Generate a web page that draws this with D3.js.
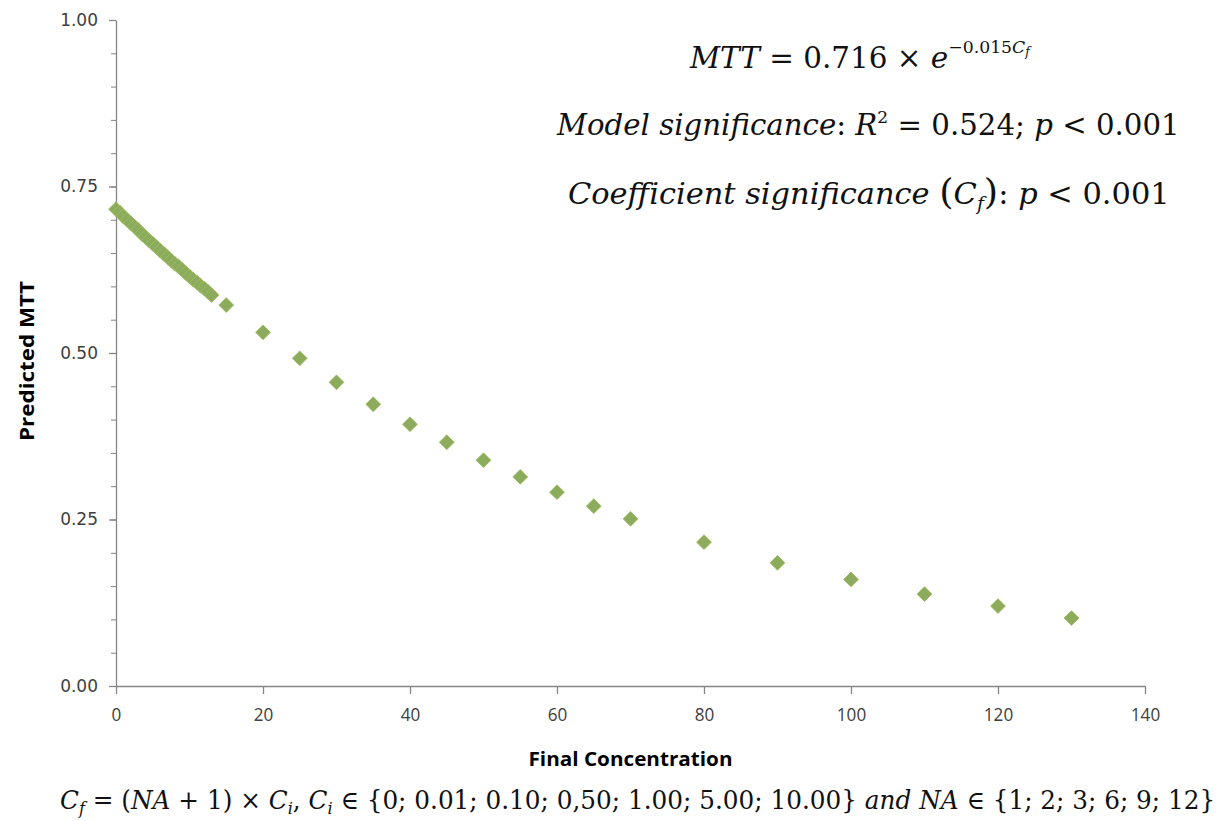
<!DOCTYPE html>
<html>
<head>
<meta charset="utf-8">
<script src="https://cdn.jsdelivr.net/npm/d3@7"></script>
<style>
  html, body { margin: 0; padding: 0; background: #fff; }
  svg { display: block; }
</style>
</head>
<body>
<svg id="chart" width="1227" height="821"></svg>
<script>
// Final concentration (Cf) of each simulated case
const concentration = [
  0, 0.5, 1, 1.5, 2, 2.5, 3, 3.5, 4, 4.5, 5, 5.5, 6, 6.5, 7, 7.5, 8, 8.5, 9, 9.5,
  10, 10.5, 11, 11.5, 12, 12.5, 13,
  15, 20, 25, 30, 35, 40, 45, 50, 55, 60, 65, 70, 80, 90, 100, 110, 120, 130
];
// Predicted MTT for each case
const predictedMTT = [
  0.716, 0.711, 0.705, 0.700, 0.695, 0.690, 0.685, 0.679, 0.674, 0.669, 0.664, 0.659, 0.654, 0.649, 0.644, 0.639, 0.634, 0.630, 0.625, 0.620,
  0.615, 0.610, 0.606, 0.601, 0.597, 0.592, 0.587,
  0.572, 0.531, 0.492, 0.456, 0.423, 0.393, 0.366, 0.339, 0.314, 0.291, 0.270, 0.251, 0.216, 0.185, 0.160, 0.138, 0.120, 0.102
];
const xTicks = [0, 20, 40, 60, 80, 100, 120, 140];
const yTicks = [0, 0.25, 0.5, 0.75, 1];
const yMinorTicks = d3.range(0, 1.0001, 0.05);

const svg = d3.select("#chart");
const x = d3.scaleLinear().domain([0, 140]).range([116, 1145]);
const y = d3.scaleLinear().domain([0, 1]).range([686, 20]);

const axisColor = "#868686";
const labelColor = "#404040";

// Minor ticks on the value axis
const yMinor = svg.append("g")
  .attr("transform", `translate(${x(0)},0)`)
  .call(d3.axisLeft(y).tickValues(yMinorTicks).tickSize(5).tickSizeOuter(0).tickFormat(""));
yMinor.select(".domain").remove();
yMinor.selectAll("line").attr("stroke", axisColor);

// Value axis
const yAxis = svg.append("g")
  .attr("transform", `translate(${x(0)},0)`)
  .call(d3.axisLeft(y).tickValues(yTicks).tickSize(7).tickSizeOuter(0).tickPadding(11).tickFormat(d3.format(".2f")));
yAxis.select(".domain").attr("stroke", axisColor).attr("stroke-width", 1.3);
yAxis.selectAll("line").attr("stroke", axisColor).attr("stroke-width", 1.3);
yAxis.selectAll("text")
  .attr("fill", labelColor)
  .style("font-family", "'DejaVu Sans', Verdana, sans-serif")
  .style("font-size", "17px");

// Category axis
const xAxis = svg.append("g")
  .attr("transform", `translate(0,${y(0)})`)
  .call(d3.axisBottom(x).tickValues(xTicks).tickSize(8).tickSizeOuter(0).tickPadding(14).tickFormat(d3.format("d")));
xAxis.select(".domain").attr("stroke", axisColor).attr("stroke-width", 1.3);
xAxis.selectAll("line").attr("stroke", axisColor).attr("stroke-width", 1.3);
xAxis.selectAll("text")
  .attr("fill", labelColor)
  .style("font-family", "'Open Sans', 'Liberation Sans', sans-serif")
  .style("font-size", "19px")
  .attr("transform", "scale(0.9,1)");

// Axis titles
svg.append("text")
  .attr("x", (x(0) + x(140)) / 2)
  .attr("y", 766)
  .attr("text-anchor", "middle")
  .attr("fill", "#000")
  .style("font-family", "'Open Sans', 'Liberation Sans', sans-serif")
  .style("font-weight", "bold")
  .style("font-size", "20px")
  .attr("textLength", 204)
  .attr("lengthAdjust", "spacingAndGlyphs")
  .text("Final Concentration");

svg.append("text")
  .attr("transform", `translate(34,${(y(0) + y(1)) / 2 + 8}) rotate(-90)`)
  .attr("text-anchor", "middle")
  .attr("fill", "#000")
  .style("font-family", "'Open Sans', 'Liberation Sans', sans-serif")
  .style("font-weight", "bold")
  .style("font-size", "20px")
  .attr("textLength", 160)
  .attr("lengthAdjust", "spacingAndGlyphs")
  .text("Predicted MTT");

// Data points (diamonds)
const points = concentration.map((c, i) => ({ c, v: predictedMTT[i] }));
const diamond = d3.symbol().type(d3.symbolSquare).size(110);
svg.append("g")
  .selectAll("path")
  .data(points)
  .join("path")
  .attr("d", diamond)
  .attr("transform", d => `translate(${x(d.c)},${y(d.v)}) rotate(45)`)
  .attr("fill", "#8cab5c")
  .attr("stroke", "#9cbf60")
  .attr("stroke-width", 0.8);

// Math-style text: tspans with italic variables, scaled horizontally to span [x0, x0 + width]
const mathFont = "'DejaVu Serif', 'Liberation Serif', serif";
function mathLine(x0, baseline, size, width, parts) {
  const t = svg.append("text")
    .attr("x", 0)
    .attr("y", 0)
    .attr("fill", "#111")
    .style("font-family", mathFont)
    .style("font-size", size + "px");
  parts.forEach(p => {
    const s = t.append("tspan").text(p.t);
    if (p.i) s.style("font-style", "italic");
    if (p.dy) s.attr("dy", p.dy);
    if (p.fs) s.style("font-size", p.fs + "px");
  });
  const w = t.node().getComputedTextLength() || width;
  t.attr("transform", `translate(${x0},${baseline}) scale(${width / w},1)`);
  return t;
}

mathLine(690, 68, 29, 340, [
  { t: "MTT", i: true },
  { t: " = 0.716 × " },
  { t: "e", i: true },
  { t: "−0.015", dy: -15, fs: 17 },
  { t: "C", i: true, fs: 17 },
  { t: "f", i: true, fs: 12, dy: 3 }
]);

mathLine(557, 135, 29, 623, [
  { t: "Model significance", i: true },
  { t: ": " },
  { t: "R", i: true },
  { t: "2", dy: -12, fs: 17 },
  { t: " = 0.524; ", dy: 12 },
  { t: "p", i: true },
  { t: " < 0.001" }
]);

mathLine(568, 204, 29, 602, [
  { t: "Coefficient significance ", i: true },
  { t: "(", fs: 35 },
  { t: "C", i: true },
  { t: "f", i: true, fs: 18, dy: 6 },
  { t: ")", fs: 35, dy: -6 },
  { t: ": " },
  { t: "p", i: true },
  { t: " < 0.001" }
]);

// Definition of the final concentration
mathLine(60, 809, 26, 1156, [
  { t: "C", i: true }, { t: "f", i: true, fs: 17, dy: 5 },
  { t: " = (", dy: -5 }, { t: "NA", i: true }, { t: " + 1) × " },
  { t: "C", i: true }, { t: "i", i: true, fs: 17, dy: 5 },
  { t: ", ", dy: -5 },
  { t: "C", i: true }, { t: "i", i: true, fs: 17, dy: 5 },
  { t: " ∈ {0; 0.01; 0.10; 0,50; 1.00; 5.00; 10.00} ", dy: -5 },
  { t: "and NA", i: true },
  { t: " ∈ {1; 2; 3; 6; 9; 12}" }
]);
</script>
</body>
</html>
